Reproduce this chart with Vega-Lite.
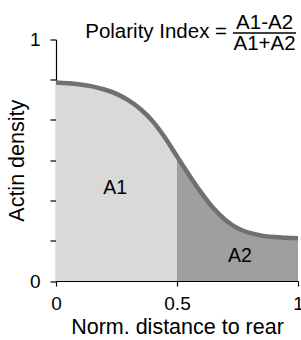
{
  "$schema": "https://vega.github.io/schema/vega-lite/v6.json",
  "width": 242,
  "height": 241.5,
  "autosize": {"type": "none"},
  "padding": {"left": 56, "top": 39.5, "right": 3, "bottom": 59},
  "config": {
    "view": {"stroke": null},
    "font": "Liberation Sans",
    "axis": {
      "grid": false,
      "domainColor": "#000000",
      "tickColor": "#000000",
      "domainWidth": 1.2,
      "tickWidth": 1.2,
      "labelColor": "#000000",
      "titleColor": "#000000",
      "labelFont": "Liberation Sans",
      "titleFont": "Liberation Sans",
      "titleFontWeight": "normal",
      "labelFontSize": 19,
      "titleFontSize": 21.5
    }
  },
  "datasets": {
    "curve": [
      {"x": 0.00, "v": 0.822},
      {"x": 0.05, "v": 0.819},
      {"x": 0.10, "v": 0.814},
      {"x": 0.15, "v": 0.806},
      {"x": 0.20, "v": 0.793},
      {"x": 0.25, "v": 0.775},
      {"x": 0.30, "v": 0.748},
      {"x": 0.35, "v": 0.711},
      {"x": 0.40, "v": 0.661},
      {"x": 0.45, "v": 0.594},
      {"x": 0.50, "v": 0.516},
      {"x": 0.55, "v": 0.439},
      {"x": 0.60, "v": 0.366},
      {"x": 0.65, "v": 0.302},
      {"x": 0.70, "v": 0.253},
      {"x": 0.75, "v": 0.219},
      {"x": 0.80, "v": 0.199},
      {"x": 0.85, "v": 0.188},
      {"x": 0.90, "v": 0.182},
      {"x": 0.95, "v": 0.179},
      {"x": 1.00, "v": 0.177}
    ],
    "labels": [
      {"x": 0.244, "v": 0.385, "t": "A1"},
      {"x": 0.76, "v": 0.103, "t": "A2"}
    ],
    "lhs": [
      {"x": 0.707, "v": 1.006, "t": "Polarity Index ="}
    ],
    "frac": [
      {"x": 0.862, "v": 1.045, "t": "A1-A2"},
      {"x": 0.862, "v": 0.956, "t": "A1+A2"}
    ],
    "bar": [
      {"x": 0.731, "x2": 0.992, "v": 1.027}
    ]
  },
  "layer": [
    {
      "data": {"name": "curve"},
      "transform": [{"filter": "datum.x <= 0.5"}],
      "mark": {"type": "area", "color": "#d9d9d9", "opacity": 1, "interpolate": "monotone"},
      "encoding": {
        "x": {
          "field": "x", "type": "quantitative",
          "scale": {"domain": [0, 1], "nice": false, "zero": false},
          "axis": {
            "values": [0, 0.5, 1],
            "labelExpr": "datum.value == 0 ? '0' : (datum.value == 1 ? '1' : '0.5')",
            "title": "Norm. distance to rear",
            "tickSize": 5,
            "labelPadding": 8,
            "titlePadding": 3,
            "labelFlush": false,
            "labelOverlap": false
          }
        },
        "y": {
          "field": "v", "type": "quantitative",
          "scale": {"domain": [0, 1], "nice": false},
          "axis": {
            "values": [0, 0.16667, 0.33333, 0.5, 0.66667, 0.83333, 1],
            "labelExpr": "datum.value == 0 ? '0' : (datum.value == 1 ? '1' : '')",
            "title": "Actin density",
            "tickSize": 6,
            "labelPadding": 10,
            "titlePadding": 1,
            "labelFlush": false,
            "labelOverlap": false
          }
        }
      }
    },
    {
      "data": {"name": "curve"},
      "transform": [{"filter": "datum.x >= 0.5"}],
      "mark": {"type": "area", "color": "#9f9f9f", "opacity": 1, "interpolate": "monotone"},
      "encoding": {
        "x": {"field": "x", "type": "quantitative"},
        "y": {"field": "v", "type": "quantitative"}
      }
    },
    {
      "data": {"name": "curve"},
      "mark": {"type": "line", "color": "#707070", "strokeWidth": 4.5, "strokeCap": "butt", "interpolate": "monotone"},
      "encoding": {
        "x": {"field": "x", "type": "quantitative"},
        "y": {"field": "v", "type": "quantitative"}
      }
    },
    {
      "data": {"name": "labels"},
      "mark": {"type": "text", "fontSize": 19.5, "color": "#000000", "baseline": "middle", "align": "center"},
      "encoding": {
        "x": {"field": "x", "type": "quantitative"},
        "y": {"field": "v", "type": "quantitative"},
        "text": {"field": "t"}
      }
    },
    {
      "data": {"name": "lhs"},
      "mark": {"type": "text", "fontSize": 20.5, "color": "#000000", "baseline": "alphabetic", "align": "right"},
      "encoding": {
        "x": {"field": "x", "type": "quantitative"},
        "y": {"field": "v", "type": "quantitative"},
        "text": {"field": "t"}
      }
    },
    {
      "data": {"name": "frac"},
      "mark": {"type": "text", "fontSize": 20.5, "color": "#000000", "baseline": "alphabetic", "align": "center"},
      "encoding": {
        "x": {"field": "x", "type": "quantitative"},
        "y": {"field": "v", "type": "quantitative"},
        "text": {"field": "t"}
      }
    },
    {
      "data": {"name": "bar"},
      "mark": {"type": "rule", "color": "#000000", "strokeWidth": 1.5},
      "encoding": {
        "x": {"field": "x", "type": "quantitative"},
        "x2": {"field": "x2"},
        "y": {"field": "v", "type": "quantitative"}
      }
    }
  ]
}
